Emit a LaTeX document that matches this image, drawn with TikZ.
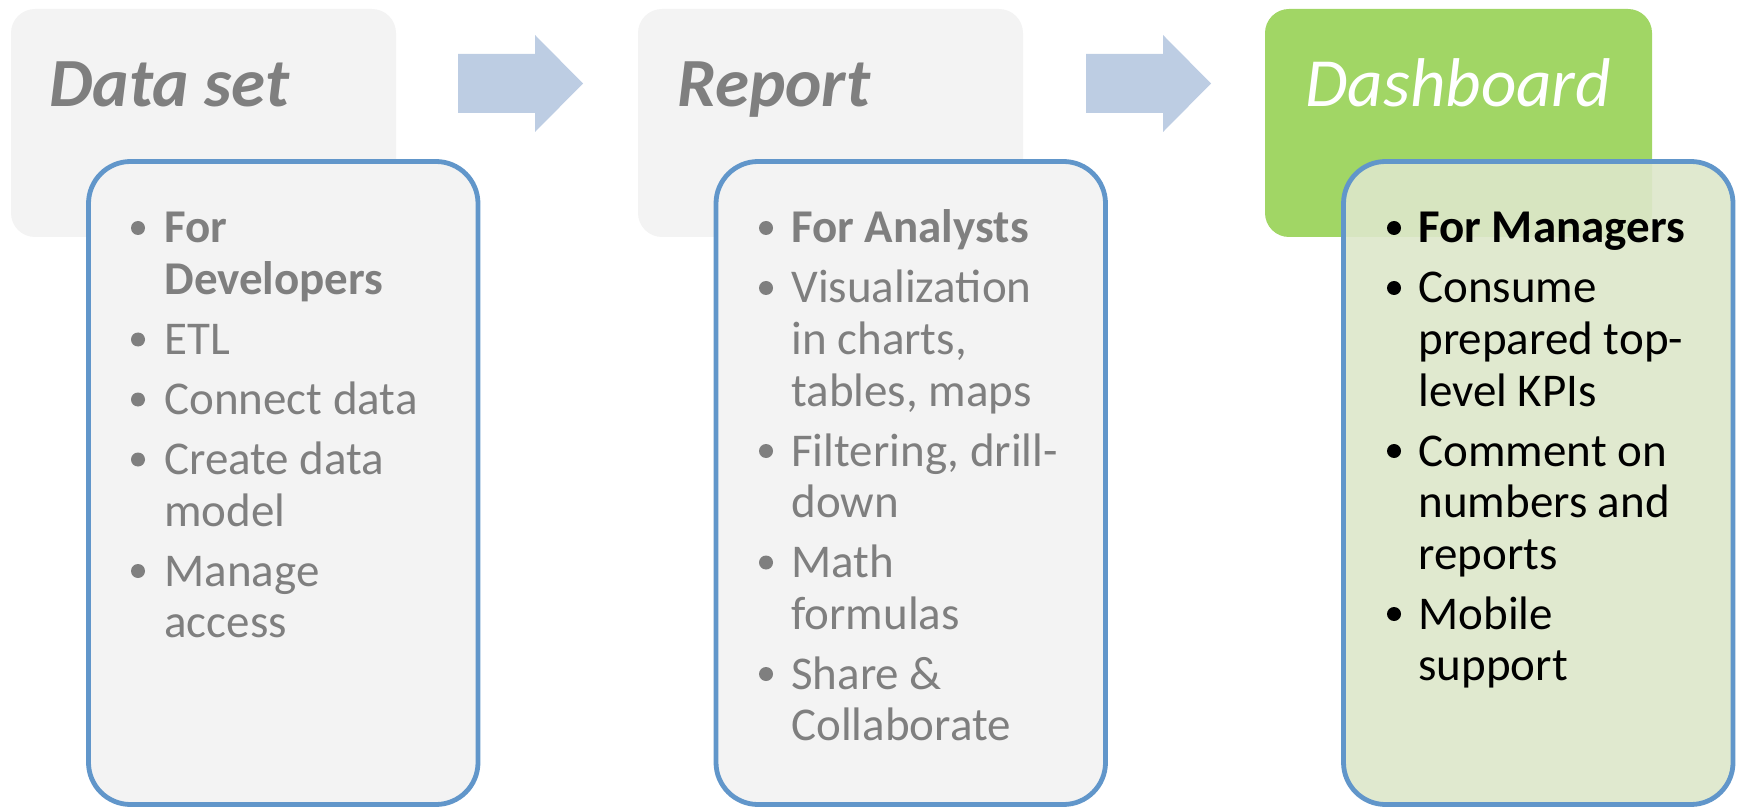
\documentclass[tikz,border=0pt]{standalone}
\usepackage{fontspec}
\setmainfont{Carlito}
\definecolor{backgray}{HTML}{F3F3F3}
\definecolor{txtgray}{HTML}{7F7F7F}
\definecolor{bordblue}{HTML}{6196CA}
\definecolor{arrowblue}{HTML}{BDCDE3}
\definecolor{dashgreen}{HTML}{A1D665}
\definecolor{panelgreen}{RGB}{221,231,202}
\tikzset{
  backbox/.style={fill=backgray, rounded corners=12pt},
  panel/.style={draw=bordblue, line width=2.4pt, fill=backgray, rounded corners=21pt},
  titletext/.style={anchor=base west, inner sep=0pt, font=\fontsize{34.5}{40}\selectfont\itshape},
  body/.style={anchor=base west, inner sep=0pt, font=\fontsize{23.5}{28}\selectfont},
  flow/.style={fill=arrowblue},
  dot/.style={radius=3.5pt},
}
\begin{document}
\begin{tikzpicture}[x=0.5pt,y=-0.5pt]
\useasboundingbox (0,0) rectangle (1743,807);
% ---- back boxes
\path[backbox] (11,9) rectangle (396,237);
\path[backbox] (638,9) rectangle (1023,237);
\path[backbox, fill=dashgreen] (1265,9) rectangle (1652,237);
% ---- titles
\node[titletext, text=txtgray, font=\fontsize{34.5}{40}\selectfont\bfseries\itshape] (t1) at (49,107) {Data set};
\node[titletext, text=txtgray, font=\fontsize{34.5}{40}\selectfont\bfseries\itshape] (t2) at (677,107) {Report};
\node[titletext, text=white] (t3) at (1305,107) {Dashboard};
% ---- arrows
\fill[flow] (458,54) -- (535,54) -- (535,35) -- (583,83.5) -- (535,132) -- (535,113) -- (458,113) -- cycle;
\fill[flow] (1086,54) -- (1163,54) -- (1163,35) -- (1211,83.5) -- (1163,132) -- (1163,113) -- (1086,113) -- cycle;
% ---- panels
\path[panel] (88.5,161.5) rectangle (478,804.5);
\path[panel] (716,161.5) rectangle (1105.5,804.5);
\path[panel, fill=panelgreen, fill opacity=0.9] (1343.5,161.5) rectangle (1733,804.5);
% ---- panel 1 text
\begin{scope}[text=txtgray]
\fill[txtgray] (138,228) circle[dot];
\node[body, font=\fontsize{23.5}{28}\selectfont\bfseries] (a1) at (164,243) {For};
\node[body, font=\fontsize{23.5}{28}\selectfont\bfseries] (a2) at (164,294.5) {Developers};
\fill[txtgray] (138,339.5) circle[dot];
\node[body] (a3) at (164,354.5) {ETL};
\fill[txtgray] (138,399.5) circle[dot];
\node[body] (a4) at (164,414.5) {Connect data};
\fill[txtgray] (138,459.5) circle[dot];
\node[body] (a5) at (164,474.5) {Create data};
\node[body] (a6) at (164,526) {model};
\fill[txtgray] (138,571) circle[dot];
\node[body] (a7) at (164,586) {Manage};
\node[body] (a8) at (164,637.5) {access};
\end{scope}
% ---- panel 2 text
\begin{scope}[text=txtgray]
\fill[txtgray] (766,228) circle[dot];
\node[body, font=\fontsize{23.5}{28}\selectfont\bfseries] (b1) at (791,243) {For Analysts};
\fill[txtgray] (766,288) circle[dot];
\node[body] (b2) at (791,303) {Visualization};
\node[body] (b3) at (791,354.5) {in charts,};
\node[body] (b4) at (791,406) {tables, maps};
\fill[txtgray] (766,451) circle[dot];
\node[body] (b5) at (791,466) {Filtering, drill-};
\node[body] (b6) at (791,517.5) {down};
\fill[txtgray] (766,562.5) circle[dot];
\node[body] (b7) at (791,577.5) {Math};
\node[body] (b8) at (791,629) {formulas};
\fill[txtgray] (766,674) circle[dot];
\node[body] (b9) at (791,689) {Share \&};
\node[body] (b10) at (791,740.5) {Collaborate};
\end{scope}
% ---- panel 3 text
\begin{scope}[text=black]
\fill[black] (1394,228) circle[dot];
\node[body, font=\fontsize{23.5}{28}\selectfont\bfseries] (c1) at (1418,243) {For Managers};
\fill[black] (1394,288) circle[dot];
\node[body] (c2) at (1418,303) {Consume};
\node[body] (c3) at (1418,354.5) {prepared top-};
\node[body] (c4) at (1418,406) {level KPIs};
\fill[black] (1394,451) circle[dot];
\node[body] (c5) at (1418,466) {Comment on};
\node[body] (c6) at (1418,517.5) {numbers and};
\node[body] (c7) at (1418,569) {reports};
\fill[black] (1394,614) circle[dot];
\node[body] (c8) at (1418,629) {Mobile};
\node[body] (c9) at (1418,680.5) {support};
\end{scope}
\end{tikzpicture}
\end{document}
